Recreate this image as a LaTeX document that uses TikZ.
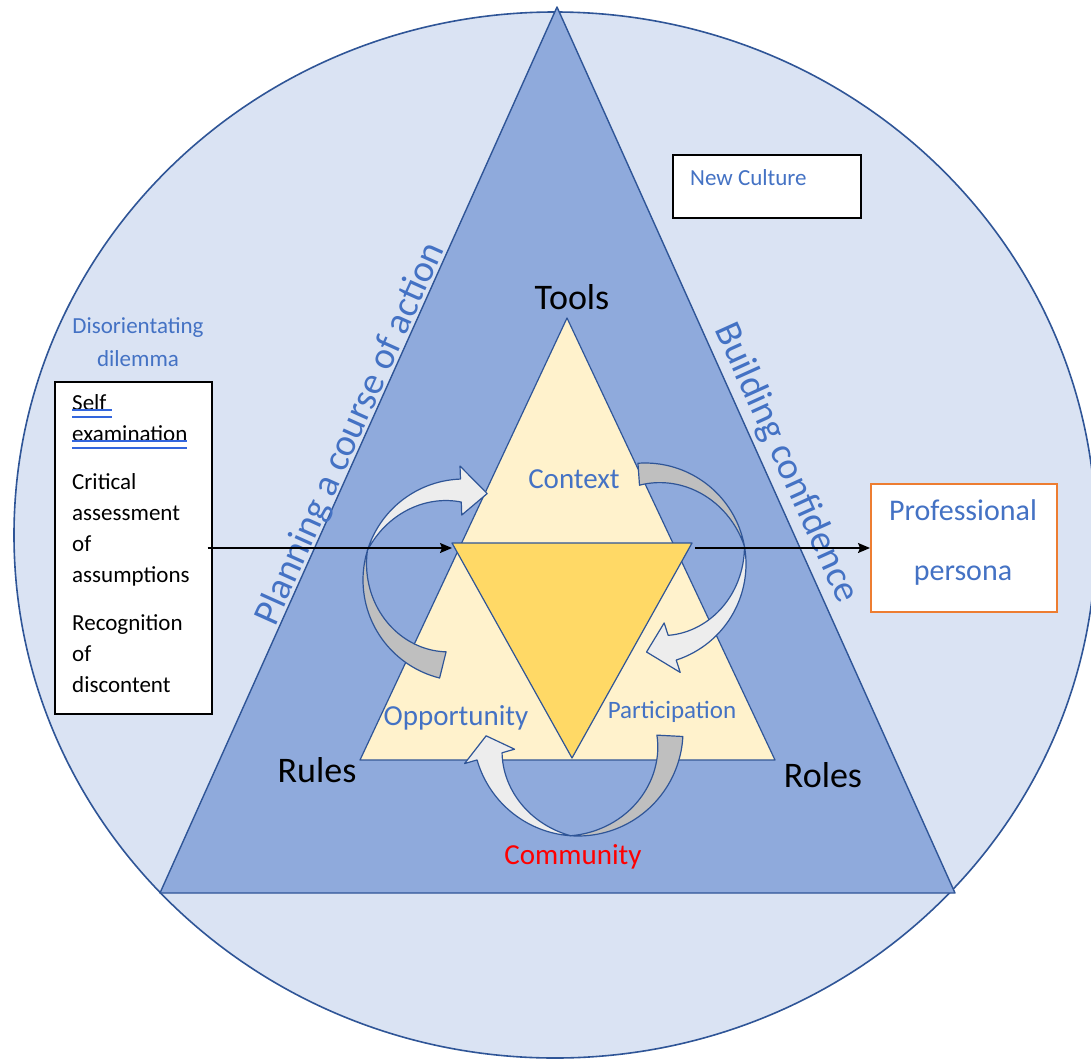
\documentclass[tikz,border=0pt]{standalone}
\usepackage{fontspec}
\setmainfont{Carlito}
\usetikzlibrary{arrows.meta}

\definecolor{circlefill}{RGB}{218,227,243}
\definecolor{edgeblue}{RGB}{47,85,151}
\definecolor{outerfill}{RGB}{143,170,220}
\definecolor{innerfill}{RGB}{255,242,204}
\definecolor{corefill}{RGB}{255,217,102}
\definecolor{arrowgray}{RGB}{191,191,191}
\definecolor{arrowwhite}{RGB}{237,237,237}
\definecolor{labelblue}{RGB}{68,114,196}
\definecolor{boxorange}{RGB}{237,125,49}
\definecolor{ulblue}{RGB}{51,102,221}

\newsavebox\spellbox
\newcommand\spellul[1]{\sbox\spellbox{#1}\rlap{\usebox\spellbox}{\color{ulblue}\rlap{\rule[-0.5pt]{\wd\spellbox}{1.3pt}}\rule[-7.5pt]{\wd\spellbox}{1.3pt}}}

% centre x, centre y, radius, tail / pinch / head angle, tail width, band width, head length
\newcommand\bentarrow[9]{%
  \filldraw[arrowback]
    plot[domain=#4:#5] ({#1+#3*cos(\x)}, {#2+#3*sin(\x)})
    -- plot[domain=#5:#4] ({#1+(#3-#7*(#5-\x)/(#5-#4))*cos(\x)}, {#2+(#3-#7*(#5-\x)/(#5-#4))*sin(\x)})
    -- cycle;
  \filldraw[arrowfront]
    plot[domain=#5:#6] ({#1+#3*cos(\x)}, {#2+#3*sin(\x)})
    -- ({#1+(#3+13)*cos(#6)}, {#2+(#3+13)*sin(#6)})
    -- ({#1+(#3-#8/2)*cos(#6+#9)}, {#2+(#3-#8/2)*sin(#6+#9)})
    -- ({#1+(#3-#8-13)*cos(#6)}, {#2+(#3-#8-13)*sin(#6)})
    -- plot[domain=#6:#5] ({#1+(#3-#8*(\x-#5)/(#6-#5))*cos(\x)}, {#2+(#3-#8*(\x-#5)/(#6-#5))*sin(\x)})
    -- cycle;
}

\tikzset{
  culture/.style={fill=circlefill, draw=edgeblue, line width=1.6pt},
  activity/.style={fill=outerfill, draw=edgeblue, line width=1.4pt, line join=round},
  subject/.style={fill=innerfill, draw=edgeblue, line width=1.2pt, line join=round},
  core/.style={fill=corefill, draw=edgeblue, line width=1.2pt, line join=round},
  arrowback/.style={fill=arrowgray, draw=edgeblue, line width=1.2pt, line join=round, samples=40},
  arrowfront/.style={fill=arrowwhite, draw=edgeblue, line width=1.2pt, line join=round, samples=40},
  cornerlabel/.style={font=\fontsize{36}{40}\selectfont, text=black, anchor=base, inner sep=0pt},
  facetlabel/.style={font=\fontsize{29}{34}\selectfont, text=labelblue, anchor=base, inner sep=0pt},
  sidelabel/.style={font=\fontsize{38}{40}\selectfont, text=labelblue, inner sep=0pt},
  notebox/.style={rectangle, draw=black, fill=white, line width=1.6pt},
  flowarrow/.style={draw=black, line width=1.4pt, -{Stealth[length=12pt,width=10pt,inset=2pt]}}
}

\begin{document}
\begin{tikzpicture}[x=1pt, y=-1pt]
  \useasboundingbox[fill=white] (0,0) rectangle (1091,1060);
  \draw[culture] (555,535) ellipse [x radius=541, y radius=523];

  % triangles
  \coordinate (apex) at (557,7);
  \coordinate (baseleft) at (160,893);
  \coordinate (baseright) at (955,893);
  \filldraw[activity] (apex) -- (baseleft) -- (baseright) -- cycle;
  \coordinate (toolscorner) at (567,318);
  \coordinate (rulescorner) at (360,760);
  \coordinate (rolescorner) at (775,760);
  \filldraw[subject] (toolscorner) -- (rulescorner) -- (rolescorner) -- cycle;
  \coordinate (coreleft) at (452,543);
  \coordinate (coreright) at (692,543);
  \coordinate (corebottom) at (572,758);
  \filldraw[core] (coreleft) -- (coreright) -- (corebottom) -- cycle;

  % curved arrows
  \bentarrow{464}{580}{101}{104}{197}{268}{27}{23}{17}
  \bentarrow{645}{564}{101}{266}{350}{432}{22}{26}{17}
  \bentarrow{578}{731}{105}{3}{94}{164}{26}{26}{13}

  % labels
  \node[cornerlabel] (tools) at (572,309) {Tools};
  \node[cornerlabel] (rules) at (317,782) {Rules};
  \node[cornerlabel] (roles) at (823,787) {Roles};
  \node[facetlabel] (context) at (574,488) {Context};
  \node[facetlabel] (opportunity) at (456,725) {Opportunity};
  \node[facetlabel, font=\fontsize{25}{30}\selectfont] (participation) at (672,718) {Participation};
  \node[facetlabel, text=red] (community) at (573,864) {Community};
  \node[sidelabel, rotate=65.8] (planning) at (351,434) {Planning a course of action};
  \node[sidelabel, rotate=-65.7] (confidence) at (786,463) {Building confidence};

  % boxes
  \node[notebox, minimum width=188, minimum height=63] (culturebox) at (767,186.5) {};
  \node[anchor=base west, inner sep=0pt, font=\fontsize{23}{26}\selectfont, text=labelblue] (newculture) at (690,185) {New Culture};

  \node[align=center, inner sep=0pt, font=\fontsize{23}{33}\selectfont, text=labelblue] (dilemma) at (138,342) {Disorientating\\dilemma};
  \node[notebox, line width=1.4pt, minimum width=157, minimum height=332] (dilemmabox) at (133.5,548) {};
  \node[anchor=north west, align=left, inner sep=0pt, font=\fontsize{23}{31}\selectfont] (dilemmatext) at (72,394)
    {\spellul{Self\ }\\ \spellul{examination}\\[17pt] Critical\\ assessment\\ of\\ assumptions\\[17pt] Recognition\\ of\\ discontent};

  \node[notebox, draw=boxorange, line width=2pt, minimum width=186, minimum height=128] (personabox) at (964,548) {};
  \node[anchor=base, inner sep=0pt, font=\fontsize{30}{32}\selectfont, text=labelblue] (professional) at (963,520) {Professional};
  \node[anchor=base, inner sep=0pt, font=\fontsize{30}{32}\selectfont, text=labelblue] (persona) at (963,580) {persona};

  % straight arrows
  \draw[flowarrow] ([xshift=-5pt]dilemmabox.east) -- (dilemmabox.east -| coreleft);
  \draw[flowarrow] ([xshift=3pt]coreright |- personabox.west) -- (personabox.west);
\end{tikzpicture}
\end{document}
